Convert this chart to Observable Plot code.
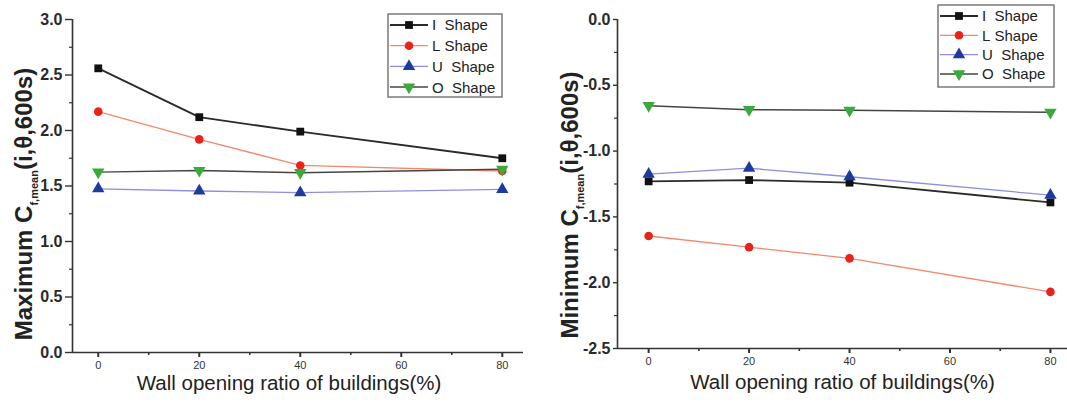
<!DOCTYPE html>
<html>
<head>
<meta charset="utf-8">
<script src="https://cdn.jsdelivr.net/npm/d3@7"></script>
<script src="https://cdn.jsdelivr.net/npm/@observablehq/plot@0.6"></script>
<style>
  html, body { margin: 0; padding: 0; background: #fff; }
  #wrap { position: relative; width: 1067px; height: 403px; overflow: hidden; }
  #wrap > svg { position: absolute; top: 0; }
</style>
</head>
<body>
<div id="wrap"></div>
<script>
// Wall opening ratio (%) on the x axis
const ratios = [0, 20, 40, 80];
const shapes = ["I  Shape", "L Shape", "U  Shape", "O  Shape"];

// Maximum mean pressure coefficient per building shape
const maxI = [2.56, 2.12, 1.99, 1.75];
const maxL = [2.17, 1.92, 1.685, 1.635];
const maxU = [1.475, 1.455, 1.44, 1.47];
const maxO = [1.625, 1.64, 1.62, 1.65];

// Minimum mean pressure coefficient per building shape
const minI = [-1.23, -1.22, -1.24, -1.39];
const minL = [-1.645, -1.73, -1.815, -2.07];
const minU = [-1.175, -1.13, -1.195, -1.335];
const minO = [-0.655, -0.685, -0.69, -0.705];

// Tick values
const xMajor = [0, 20, 40, 60, 80];
const xMinor = [10, 30, 50, 70];
const yMaxMajor = [0, 0.5, 1.0, 1.5, 2.0, 2.5, 3.0];
const yMaxMinor = [0.25, 0.75, 1.25, 1.75, 2.25, 2.75];
const yMinMajor = [-2.5, -2.0, -1.5, -1.0, -0.5, 0.0];
const yMinMinor = [-2.25, -1.75, -1.25, -0.75, -0.25];

const xTitle = "Wall opening ratio of buildings(%)";

const FONT = "'Liberation Sans', Arial, Helvetica, sans-serif";
const INK = "#222";

// downward-pointing triangle symbol
const triangleDown = {
  draw(context, size) {
    const y = -Math.sqrt(size / (Math.sqrt(3) * 3));
    context.moveTo(0, -y * 2);
    context.lineTo(-Math.sqrt(3) * y, y);
    context.lineTo(Math.sqrt(3) * y, y);
    context.closePath();
  }
};

const styles = [
  {line: "#2a2a2a", fill: "#111111", symbol: "square", r: 4.4, width: 1.8},
  {line: "#f3896c", fill: "#e82418", symbol: "circle", r: 4.3, width: 1.3},
  {line: "#8e8ee0", fill: "#1c3b9c", symbol: "triangle", r: 4.6, width: 1.3},
  {line: "#444444", fill: "#3aab3a", symbol: triangleDown, r: 4.6, width: 1.5}
];

function rows(values) {
  return ratios.map((r, i) => ({ratio: r, value: values[i]}));
}

function seriesMarks(seriesList) {
  const marks = [];
  seriesList.forEach((vals, k) => {
    const s = styles[k];
    marks.push(Plot.line(rows(vals), {x: "ratio", y: "value", stroke: s.line, strokeWidth: s.width}));
  });
  seriesList.forEach((vals, k) => {
    const s = styles[k];
    marks.push(Plot.dot(rows(vals), {x: "ratio", y: "value", symbol: s.symbol, r: s.r, fill: s.fill, stroke: "none"}));
  });
  return marks;
}

function panel({seriesList, yDomain, yMajor, yMinor, xDomain, width, margins, yTitleMain, legendBox,
                legendRowGap, yTitleX, yTitleY, xTitleDx, xTitleDy, yTickSize, yTickPad, left}) {
  const chart = Plot.plot({
    width,
    height: 403,
    ...margins,
    style: {fontFamily: FONT, color: INK, background: "transparent", overflow: "visible"},
    x: {domain: xDomain, axis: null},
    y: {domain: yDomain, axis: null},
    marks: [
      // axis lines
      Plot.ruleX([xDomain[0]], {stroke: "#333", strokeWidth: 1.6}),
      Plot.ruleY([yDomain[0]], {stroke: "#333", strokeWidth: 1.6}),
      // y ticks
      Plot.axisY(yMajor, {anchor: "left", tickSize: yTickSize, tickPadding: yTickPad, fontSize: 16, fontWeight: "bold",
        fill: "#2a2a2a", stroke: "#333", strokeWidth: 1.4, tickFormat: d => d.toFixed(1), label: null}),
      Plot.axisY(yMinor, {anchor: "left", tickSize: 3, stroke: "#333", strokeWidth: 1.2, tickFormat: null, text: null, label: null}),
      // x ticks
      Plot.axisX(xMajor, {anchor: "bottom", tickSize: 5, tickPadding: 4, fontSize: 11, fill: "#333",
        stroke: "#333", strokeWidth: 2, label: null}),
      Plot.axisX(xMinor, {anchor: "bottom", tickSize: 3, stroke: "#333", strokeWidth: 1.6, tickFormat: null, text: null, label: null}),
      // x-axis title
      Plot.text([xTitle], {frameAnchor: "bottom", dy: xTitleDy, dx: xTitleDx, fontSize: 20.5, fill: INK}),
      ...seriesMarks(seriesList)
    ]
  });
  chart.style.left = left + "px";

  const svg = d3.select(chart);

  // y-axis title with subscript
  const t = svg.append("text")
    .attr("transform", `translate(${yTitleX},${yTitleY}) rotate(-90)`)
    .attr("text-anchor", "middle")
    .attr("font-family", FONT)
    .attr("font-size", 24)
    .attr("font-weight", "bold")
    .attr("fill", INK);
  t.append("tspan").text(yTitleMain + " C");
  t.append("tspan").attr("font-size", 11).attr("dy", 6).text("f,mean");
  t.append("tspan").attr("dy", -6).text("(i,\u03b8,600s)");

  // legend
  const [bx, by, bw, bh] = legendBox;
  const lg = svg.append("g").attr("font-family", FONT).attr("text-anchor", "start");
  lg.append("rect").attr("x", bx).attr("y", by).attr("width", bw).attr("height", bh)
    .attr("fill", "#fff").attr("stroke", "#7a7a7a").attr("stroke-width", 1.5);
  shapes.forEach((name, k) => {
    const s = styles[k];
    const cy = by + 11 + k * legendRowGap;
    lg.append("line").attr("x1", bx + 2).attr("x2", bx + 40).attr("y1", cy).attr("y2", cy)
      .attr("stroke", s.line).attr("stroke-width", s.width);
    const type = typeof s.symbol === "string"
      ? {square: d3.symbolSquare, circle: d3.symbolCircle, triangle: d3.symbolTriangle}[s.symbol]
      : s.symbol;
    lg.append("path").attr("transform", `translate(${bx + 21},${cy})`)
      .attr("d", d3.symbol(type, Math.PI * s.r * s.r)())
      .attr("fill", s.fill);
    lg.append("text").attr("x", bx + 44).attr("y", cy).attr("dy", "0.36em")
      .attr("font-size", 15).attr("fill", INK)
      .text(name.replace(/ /g, "\u00a0"));
  });

  document.getElementById("wrap").appendChild(chart);
}

panel({
  seriesList: [maxI, maxL, maxU, maxO],
  yDomain: [0, 3.0], yMajor: yMaxMajor, yMinor: yMaxMinor,
  xDomain: [-5.1, 84.2],
  width: 535,
  margins: {marginLeft: 72, marginRight: 12, marginTop: 19, marginBottom: 51},
  yTitleMain: "Maximum",
  legendBox: [388, 14, 114, 83], legendRowGap: 20.7,
  yTitleX: 32, yTitleY: 204, xTitleDx: -9, xTitleDy: 37,
  yTickSize: 7, yTickPad: 3,
  left: 0
});

panel({
  seriesList: [minI, minL, minU, minO],
  yDomain: [-2.5, 0], yMajor: yMinMajor, yMinor: yMinMinor,
  xDomain: [-6.2, 83.4],
  width: 532,
  margins: {marginLeft: 82, marginRight: 0, marginTop: 19, marginBottom: 55},
  yTitleMain: "Minimum",
  legendBox: [403, 5, 116, 82], legendRowGap: 19.3,
  yTitleX: 43, yTitleY: 205, xTitleDx: 0, xTitleDy: 40,
  yTickSize: 4, yTickPad: 3,
  left: 535
});
</script>
</body>
</html>
